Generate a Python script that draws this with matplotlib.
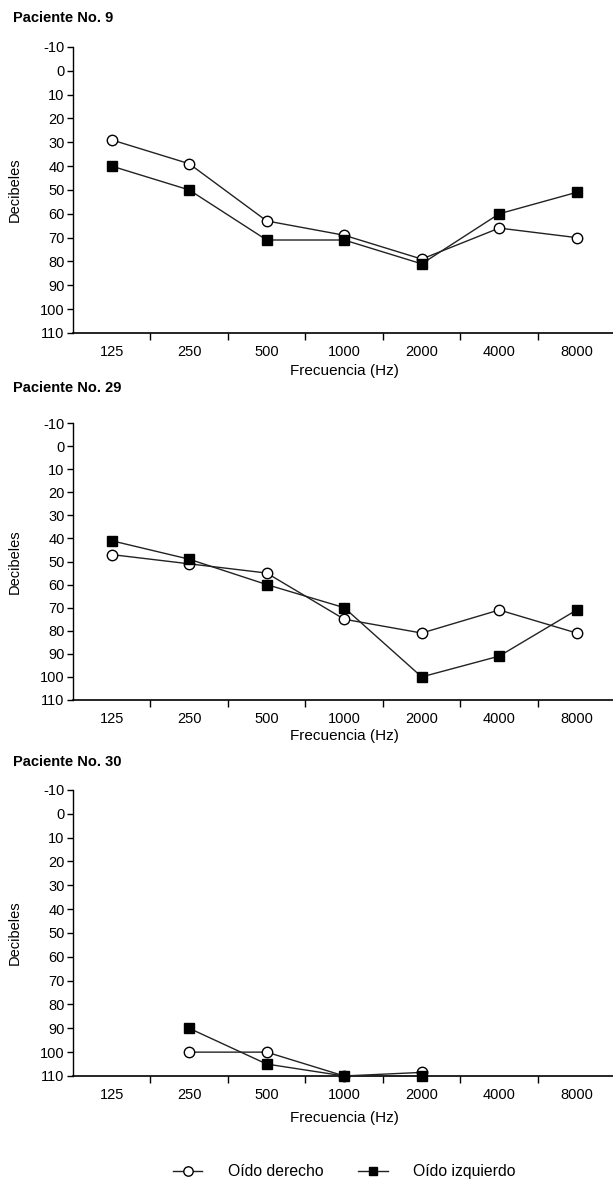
import numpy as np
import matplotlib.pyplot as plt
from matplotlib.ticker import FixedLocator, NullFormatter

plt.rcParams['font.family'] = ['Liberation Sans', 'DejaVu Sans']

# frequencies (Hz) and hearing thresholds (dB)
freqs = ['125', '250', '500', '1000', '2000', '4000', '8000']
yticks = list(range(-10, 111, 10))

p9_derecho = [29, 39, 63, 69, 79, 66, 70]
p9_izquierdo = [40, 50, 71, 71, 81, 60, 51]

p29_derecho = [47, 51, 55, 75, 81, 71, 81]
p29_izquierdo = [41, 49, 60, 70, 100, 91, 71]

p30_derecho = [np.nan, 100, 100, 110, 108.5, np.nan, np.nan]
p30_izquierdo = [np.nan, 90, 105, 110, 110, np.nan, np.nan]

titles = ['Paciente No. 9', 'Paciente No. 29', 'Paciente No. 30']
panels = [(p9_derecho, p9_izquierdo), (p29_derecho, p29_izquierdo), (p30_derecho, p30_izquierdo)]

fig = plt.figure(figsize=(6.13, 11.82), dpi=100)

# axes boxes in figure fraction (left, bottom, width, height)
boxes = [(0.119, 0.7183, 0.885, 0.2420),
         (0.119, 0.4078, 0.885, 0.2343),
         (0.119, 0.0897, 0.885, 0.2420)]
title_y = [0.985, 0.672, 0.355]
xlabel_pad = [3, 2, 6]

x = np.arange(len(freqs))
for (der, izq), box, title, ty, lp in zip(panels, boxes, titles, title_y, xlabel_pad):
    ax = fig.add_axes(box)
    ax.plot(x, der, color='#222222', lw=1, marker='o', ms=7.5, mfc='white', mec='black', mew=1,
            label='Oído derecho', zorder=3, clip_on=False)
    ax.plot(x, izq, color='#222222', lw=1, marker='s', ms=7, mfc='black', mec='black',
            label='Oído izquierdo', zorder=4, clip_on=False)
    ax.set_xlim(-0.5, 6.5)
    ax.set_ylim(110, -10)
    ax.set_yticks(yticks)
    ax.set_yticklabels([str(v) for v in yticks])
    ax.set_xticks(x)
    ax.set_xticklabels(freqs)
    ax.xaxis.set_minor_locator(FixedLocator(np.arange(0.5, 6, 1)))
    ax.xaxis.set_minor_formatter(NullFormatter())
    ax.tick_params(axis='x', which='major', length=0, pad=9, labelsize=10.5)
    ax.tick_params(axis='x', which='minor', length=5, direction='out', width=1)
    ax.tick_params(axis='y', length=4, width=1, pad=2, labelsize=10.5)
    ax.spines['top'].set_visible(False)
    ax.spines['right'].set_visible(False)
    ax.spines['left'].set_linewidth(1)
    ax.spines['bottom'].set_linewidth(1.2)
    ax.set_xlabel('Frecuencia (Hz)', fontsize=11, labelpad=lp)
    ax.set_ylabel('Decibeles', fontsize=10.5)
    ax.yaxis.set_label_coords(-0.094, 0.5)
    fig.text(0.021, ty, title, fontsize=10.5, fontweight='bold', va='center', ha='left')

handles, labels = ax.get_legend_handles_labels()
fig.legend(handles, labels, loc='center', bbox_to_anchor=(0.561, 0.0085), ncol=2,
           frameon=False, fontsize=11.3, columnspacing=2.2, handlelength=1.9,
           handletextpad=1.6, markerscale=0.9)

fig.savefig('out.png', dpi=100)
